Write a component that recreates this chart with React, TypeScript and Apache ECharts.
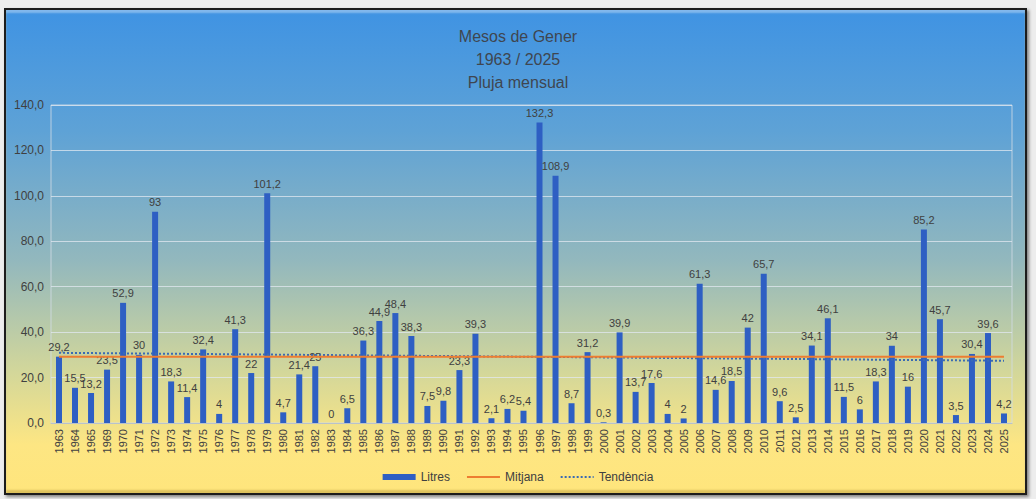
import * as echarts from 'echarts';
import React, { useEffect, useRef } from 'react';

const YEARS = [
  '1963', '1964', '1965', '1969', '1970', '1971', '1972', '1973', '1974', '1975',
  '1976', '1977', '1978', '1979', '1980', '1981', '1982', '1983', '1984', '1985',
  '1986', '1987', '1988', '1989', '1990', '1991', '1992', '1993', '1994', '1995',
  '1996', '1997', '1998', '1999', '2000', '2001', '2002', '2003', '2004', '2005',
  '2006', '2007', '2008', '2009', '2010', '2011', '2012', '2013', '2014', '2015',
  '2016', '2017', '2018', '2019', '2020', '2021', '2022', '2023', '2024', '2025',
];

const LITRES = [
  29.2, 15.5, 13.2, 23.5, 52.9, 30, 93, 18.3, 11.4, 32.4,
  4, 41.3, 22, 101.2, 4.7, 21.4, 25, 0, 6.5, 36.3,
  44.9, 48.4, 38.3, 7.5, 9.8, 23.3, 39.3, 2.1, 6.2, 5.4,
  132.3, 108.9, 8.7, 31.2, 0.3, 39.9, 13.7, 17.6, 4, 2,
  61.3, 14.6, 18.5, 42, 65.7, 9.6, 2.5, 34.1, 46.1, 11.5,
  6, 18.3, 34, 16, 85.2, 45.7, 3.5, 30.4, 39.6, 4.2,
];

// mean line and trend end points (first and last year)
const MITJANA = [29.2, 29.2];
const TENDENCIA = [30.9, 27.4];

const TITLE_LINES = ['Mesos de Gener', '1963 / 2025', 'Pluja mensual'];

const FONT = '"Liberation Sans", Arial, sans-serif';
const TEXT = '#404040';

const comma = (v: number) => String(v).replace('.', ',');

function RainChart(): React.ReactElement {
  const ref = useRef<HTMLDivElement>(null);

  useEffect(() => {
    if (!ref.current) return;
    const chart = echarts.init(ref.current, undefined, { renderer: 'svg' });
    const first = YEARS[0];
    const last = YEARS[YEARS.length - 1];

    chart.setOption({
      animation: false,
      backgroundColor: 'transparent',
      textStyle: { fontFamily: FONT },
      title: {
        text: TITLE_LINES.join('\n'),
        left: 'center',
        top: 20,
        textStyle: { fontFamily: FONT, fontSize: 16, fontWeight: 'normal', color: '#3f4650', lineHeight: 23 },
      },
      legend: {
        top: 466,
        left: 'center',
        itemWidth: 33,
        itemHeight: 6,
        itemGap: 16,
        textStyle: { fontFamily: FONT, fontSize: 12, color: TEXT },
        data: [
          { name: 'Litres', icon: 'rect' },
          // hide the round marker ECharts puts on line legend icons
          { name: 'Mitjana', itemStyle: { opacity: 0 } },
          { name: 'Tendència', itemStyle: { opacity: 0 } },
        ],
      },
      grid: {
        left: 51,
        right: 24,
        top: 105,
        bottom: 76,
        show: true,
        borderColor: 'rgba(210,220,230,0.8)',
        borderWidth: 1,
      },
      xAxis: {
        type: 'category',
        data: YEARS,
        axisTick: { show: false },
        axisLine: { lineStyle: { color: '#b8c2cc', width: 1 } },
        axisLabel: { rotate: 90, interval: 0, fontSize: 11, color: TEXT, margin: 6, fontFamily: FONT },
      },
      yAxis: {
        type: 'value',
        min: 0,
        max: 140,
        interval: 20,
        axisLine: { show: false },
        axisTick: { show: false },
        axisLabel: { fontSize: 12, color: TEXT, margin: 7, fontFamily: FONT, formatter: (v: number) => v.toFixed(1).replace('.', ',') },
        splitLine: { lineStyle: { color: 'rgba(225,232,240,0.75)', width: 1 } },
      },
      series: [
        {
          name: 'Litres',
          type: 'bar',
          data: LITRES,
          barWidth: 6,
          itemStyle: { color: '#2e5fc3' },
          label: {
            show: true,
            position: 'top',
            distance: 4,
            fontSize: 11,
            color: TEXT,
            fontFamily: FONT,
            formatter: (p: { value: number }) => comma(p.value),
          },
          z: 2,
        },
        {
          name: 'Mitjana',
          type: 'line',
          data: [[first, MITJANA[0]], [last, MITJANA[1]]],
          symbol: 'none',
          silent: true,
          itemStyle: { color: '#ED7D31' },
          lineStyle: { color: '#ED7D31', width: 2 },
          z: 4,
        },
        {
          name: 'Tendència',
          type: 'line',
          data: [[first, TENDENCIA[0]], [last, TENDENCIA[1]]],
          symbol: 'none',
          silent: true,
          itemStyle: { color: '#3a6bb3' },
          lineStyle: { color: '#3a6bb3', width: 2, type: [2, 2] },
          z: 3,
        },
      ],
    });

    return () => chart.dispose();
  }, []);

  return <div ref={ref} style={{ position: 'absolute', left: 0, top: 0, width: 1036, height: 499 }} />;
}

export default function App(): React.ReactElement {
  return (
    <div style={{ position: 'fixed', left: 0, top: 0, width: 1036, height: 499, background: '#ededed', overflow: 'hidden' }}>
      <div
        style={{
          position: 'absolute',
          left: 4,
          top: 8,
          width: 1019,
          height: 483,
          border: '2px solid #1c1c1c',
          background: 'linear-gradient(to bottom, #3f93e3 0%, #5ea2d6 25%, #93b8bd 52%, #d3d79a 75%, #fde683 90%, #ffe57c 100%)',
          boxShadow: '2px 2px 3px rgba(0,0,0,0.45), inset 0 3px 2px rgba(255,255,255,0.35), inset 0 -3px 2px rgba(120,90,0,0.25)',
        }}
      />
      <RainChart />
    </div>
  );
}
